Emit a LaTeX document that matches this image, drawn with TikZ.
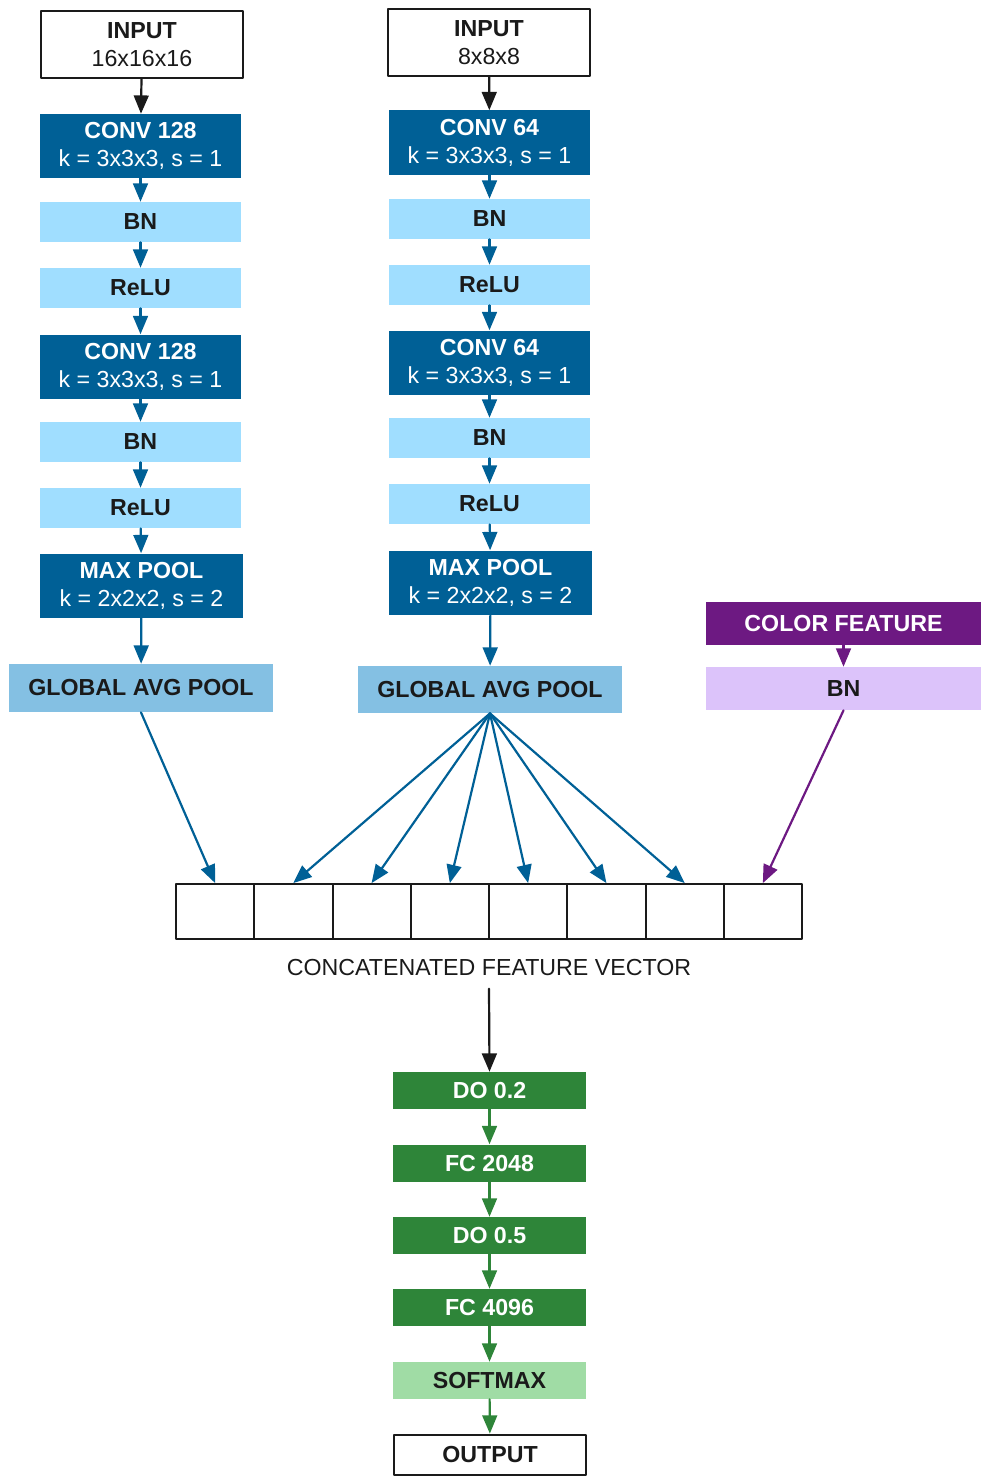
\documentclass[tikz,border=0pt]{standalone}
\usepackage{fontspec}
\setmainfont{Liberation Sans}
\usetikzlibrary{arrows}

\definecolor{convblue}{RGB}{0,96,150}
\definecolor{bnblue}{RGB}{160,222,255}
\definecolor{gapblue}{RGB}{132,192,227}
\definecolor{colpurple}{RGB}{109,25,130}
\definecolor{bnpurple}{RGB}{220,195,250}
\definecolor{fcgreen}{RGB}{46,133,57}
\definecolor{smgreen}{RGB}{160,220,165}
\definecolor{txt}{RGB}{26,26,26}

\tikzset{
  layer/.style={inner sep=0pt,font=\fontsize{11.6}{14}\selectfont,align=center,text=txt},
  iobox/.style={layer,draw=txt,line width=1pt,fill=white,minimum width=101pt},
  convbox/.style={layer,fill=convblue,text=white,minimum width=100.5pt,minimum height=32pt},
  bnbox/.style={layer,fill=bnblue,minimum width=100.5pt,minimum height=20pt},
  gapbox/.style={layer,fill=gapblue,minimum width=132pt,minimum height=24pt},
  colbox/.style={layer,fill=colpurple,text=white,minimum width=137.5pt,minimum height=21.5pt},
  colbn/.style={layer,fill=bnpurple,minimum width=137.5pt,minimum height=21.5pt},
  fcbox/.style={layer,fill=fcgreen,text=white,minimum width=96.5pt,minimum height=18.5pt},
  smbox/.style={layer,fill=smgreen,minimum width=96.5pt,minimum height=18.5pt},
  cell/.style={draw=txt,line width=1pt,minimum width=39.125pt,minimum height=27.5pt,inner sep=0pt},
  flow/.style={->,line width=1.1pt}
}

\begin{document}
\begin{tikzpicture}[line cap=round,line join=round,>=triangle 45,x=0.5pt,y=-0.5pt]
\useasboundingbox (0,0) rectangle (981,1477);
% branch for the 16x16x16 input
\node[iobox,minimum height=33.5pt] (inA) at (142,44.5) {\textbf{INPUT}\\16x16x16};
\node[convbox] (convA1) at (140.5,146) {\textbf{CONV 128}\\k = 3x3x3, s = 1};
\node[bnbox] (bnA1) at (140.5,222) {\textbf{BN}};
\node[bnbox] (reluA1) at (140.5,288) {\textbf{ReLU}};
\node[convbox] (convA2) at (140.5,366.5) {\textbf{CONV 128}\\k = 3x3x3, s = 1};
\node[bnbox] (bnA2) at (140.5,442) {\textbf{BN}};
\node[bnbox] (reluA2) at (140.5,508) {\textbf{ReLU}};
\node[convbox,minimum width=101.5pt] (poolA) at (141.5,585.5) {\textbf{MAX POOL}\\k = 2x2x2, s = 2};
\node[gapbox] (gapA) at (141,688) {\textbf{GLOBAL AVG POOL}};
% branch for the 8x8x8 input
\node[iobox,minimum height=33.5pt] (inB) at (489,42.5) {\textbf{INPUT}\\8x8x8};
\node[convbox] (convB1) at (489.5,142.5) {\textbf{CONV 64}\\k = 3x3x3, s = 1};
\node[bnbox] (bnB1) at (489.5,219) {\textbf{BN}};
\node[bnbox] (reluB1) at (489.5,285) {\textbf{ReLU}};
\node[convbox] (convB2) at (489.5,362.5) {\textbf{CONV 64}\\k = 3x3x3, s = 1};
\node[bnbox] (bnB2) at (489.5,438) {\textbf{BN}};
\node[bnbox] (reluB2) at (489.5,504) {\textbf{ReLU}};
\node[convbox,minimum width=101.5pt] (poolB) at (490.5,582.5) {\textbf{MAX POOL}\\k = 2x2x2, s = 2};
\node[gapbox,minimum height=23.5pt] (gapB) at (490,689.5) {\textbf{GLOBAL AVG POOL}};
% colour branch
\node[colbox] (colF) at (843.5,623.5) {\textbf{COLOR FEATURE}};
\node[colbn] (colBN) at (843.5,688.5) {\textbf{BN}};
% feature vector
\foreach \i in {1,...,8}
  \node[cell] (cell\i) at ({176+78.25*(\i-0.5)},911.5) {};
\node[layer,inner sep=6pt] (cfv) at (489,968) {CONCATENATED FEATURE VECTOR};
% classifier head
\node[fcbox] (do1) at (489.5,1090.5) {\textbf{DO 0.2}};
\node[fcbox] (fc1) at (489.5,1163) {\textbf{FC 2048}};
\node[fcbox] (do2) at (489.5,1235.5) {\textbf{DO 0.5}};
\node[fcbox] (fc2) at (489.5,1307.5) {\textbf{FC 4096}};
\node[smbox] (sm) at (489.5,1380.5) {\textbf{SOFTMAX}};
\node[iobox,minimum width=96pt,minimum height=20pt] (out) at (490,1454.5) {\textbf{OUTPUT}};

\draw[flow,txt] (inA) -- (convA1);
\draw[flow,txt] (inB) -- (convB1);
\foreach \a/\b in {convA1/bnA1,bnA1/reluA1,reluA1/convA2,convA2/bnA2,bnA2/reluA2,reluA2/poolA,poolA/gapA,
                   convB1/bnB1,bnB1/reluB1,reluB1/convB2,convB2/bnB2,bnB2/reluB2,reluB2/poolB,poolB/gapB}
  \draw[flow,convblue] (\a) -- (\b);
\draw[flow,colpurple] (colF) -- (colBN);

\draw[flow,convblue] (gapA.south) -- (cell1.north);
\foreach \i in {2,...,7}
  \draw[flow,convblue] (gapB.south) -- (cell\i.north);
\draw[flow,colpurple] (colBN.south) -- (cell8.north);

\draw[flow,txt] (cfv.south) -- (do1.north);
\foreach \a/\b in {do1/fc1,fc1/do2,do2/fc2,fc2/sm,sm/out}
  \draw[flow,fcgreen] (\a) -- (\b);
\end{tikzpicture}
\end{document}
